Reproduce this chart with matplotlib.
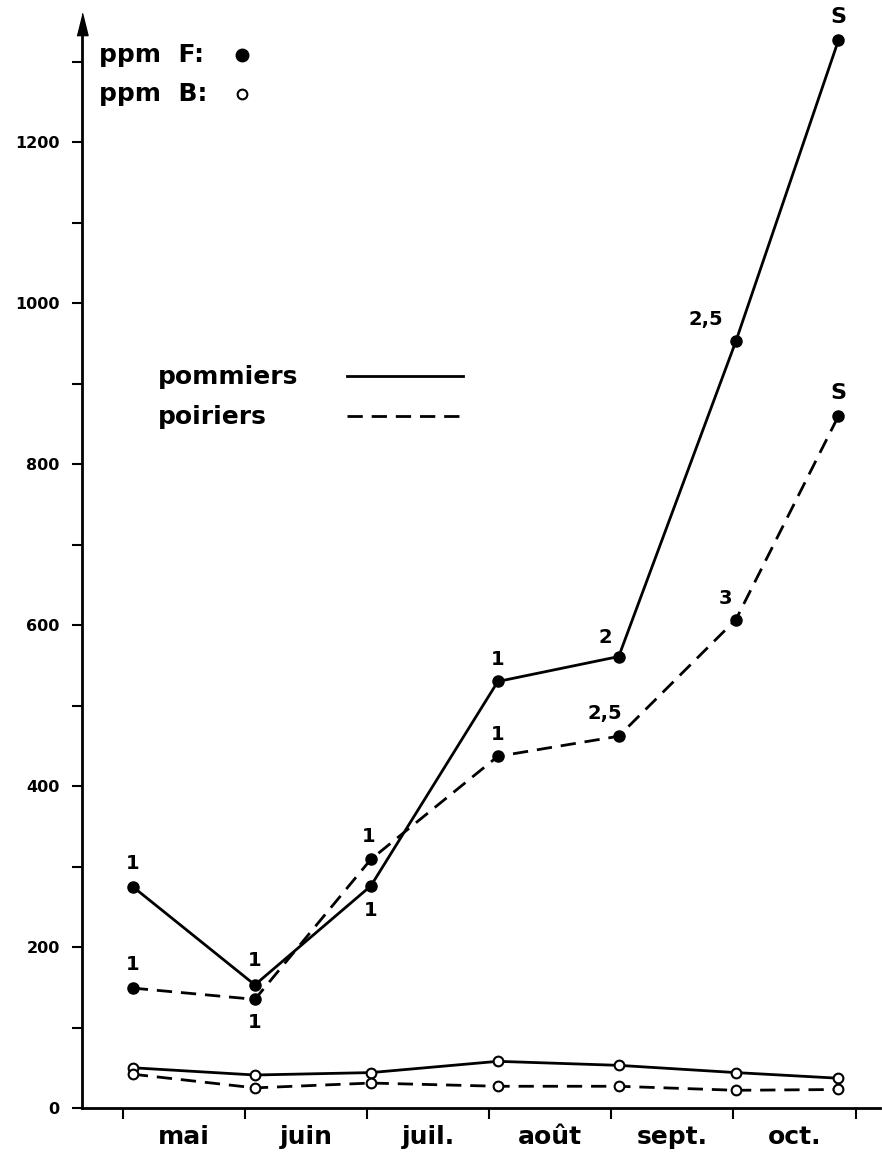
import matplotlib
matplotlib.use('Agg')
import matplotlib.pyplot as plt
from matplotlib.lines import Line2D

plt.rcParams['font.family'] = ['DejaVu Sans']
plt.rcParams['font.weight'] = 'bold'

# Données (x = position en mois depuis début mai)
mois      = ['mai', 'juin', 'juil.', 'août', 'sept.', 'oct.']
x_pts     = [0.08, 1.08, 2.03, 3.07, 4.06, 5.02, 5.86]
F_pommier = [275, 153, 276, 530, 561, 953, 1327]
F_poirier = [149, 135, 309, 437, 462, 607, 860]
B_pommier = [50, 41, 44, 58, 53, 44, 37]
B_poirier = [42, 25, 31, 27, 27, 22, 23]
# étiquettes des points F : (texte, décalage x px, décalage y px)
lab_pommier = [('1', 0, 23), ('1', 0, 24), ('1', 0, -25), ('1', 0, 22),
               ('2', -13, 19), ('2,5', -30, 22), ('S', 0, 23)]
lab_poirier = [('1', 0, 24), ('1', 0, -23), ('1', -2, 23), ('1', 0, 22),
               ('2,5', -14, 23), ('3', -10, 21), ('S', 0, 23)]

W, H = 882, 1154
fig = plt.figure(figsize=(W/100., H/100.), dpi=100)
ax = fig.add_axes([82./W, (H-1108.)/H, (880.-82.)/W, (1108.-24.)/H])
ax.set_xlim(-0.336, 6.2)
ax.set_ylim(0, 1347)

for s in ['top', 'right']:
    ax.spines[s].set_visible(False)
ax.spines['left'].set_linewidth(2)
ax.spines['bottom'].set_linewidth(2)

# fleche en haut de l'axe y
ax.plot([-0.336], [1347], marker=[(-0.5, -1), (0.5, -1), (0, 1)], ms=16,
        color='black', clip_on=False)

# axe y
ax.set_yticks(range(0, 1201, 200))
ax.set_yticks(range(100, 1301, 200), minor=True)
ax.tick_params(axis='y', which='both', direction='out', length=7, width=1.5,
               pad=9, labelsize=11.5)
# axe x : traits aux limites de mois, noms entre
ax.set_xticks(range(7))
ax.set_xticklabels([])
ax.set_xticks([i + 0.5 for i in range(6)], minor=True)
ax.set_xticklabels(mois, minor=True)
ax.tick_params(axis='x', which='major', direction='out', length=8, width=1.5)
ax.tick_params(axis='x', which='minor', length=0, pad=12, labelsize=18)

dash = (5.5, 3.2)
ax.plot(x_pts, F_pommier, '-', color='black', lw=2, marker='o', ms=8,
        clip_on=False, zorder=3)
ax.plot(x_pts, F_poirier, '--', color='black', lw=2, dashes=dash, marker='o',
        ms=8, clip_on=False, zorder=3)
ax.plot(x_pts, B_pommier, '-', color='black', lw=2, marker='o', ms=7,
        mfc='white', mew=1.5, zorder=3)
ax.plot(x_pts, B_poirier, '--', color='black', lw=2, dashes=dash, marker='o',
        ms=7, mfc='white', mew=1.5, zorder=3)

for xs, ys, labs in [(x_pts, F_pommier, lab_pommier), (x_pts, F_poirier, lab_poirier)]:
    for xi, yi, (t, dx, dy) in zip(xs, ys, labs):
        fs = 16 if t == 'S' else 14
        ax.annotate(t, (xi, yi), xytext=(dx, dy), textcoords='offset pixels',
                    ha='center', va='center', fontsize=fs, annotation_clip=False)

# légende en haut à gauche
fig.text(99./W, 1 - 55./H, 'ppm  F:', fontsize=18, va='center', ha='left')
fig.text(99./W, 1 - 94./H, 'ppm  B:', fontsize=18, va='center', ha='left')
fig.add_artist(Line2D([242./W], [1 - 55./H], marker='o', ms=9, color='black',
                      transform=fig.transFigure))
fig.add_artist(Line2D([242./W], [1 - 94./H], marker='o', ms=7, mfc='white',
                      mew=1.5, color='black', transform=fig.transFigure))

fig.text(158./W, 1 - 377./H, 'pommiers', fontsize=18, va='center', ha='left')
fig.text(158./W, 1 - 417./H, 'poiriers', fontsize=18, va='center', ha='left')
fig.add_artist(Line2D([347./W, 463./W], [1 - 376./H, 1 - 376./H], lw=2,
                      color='black', transform=fig.transFigure))
fig.add_artist(Line2D([347./W, 463./W], [1 - 416./H, 1 - 416./H], lw=2,
                      ls='--', dashes=dash, color='black', transform=fig.transFigure))

fig.savefig('out.png', dpi=100)
